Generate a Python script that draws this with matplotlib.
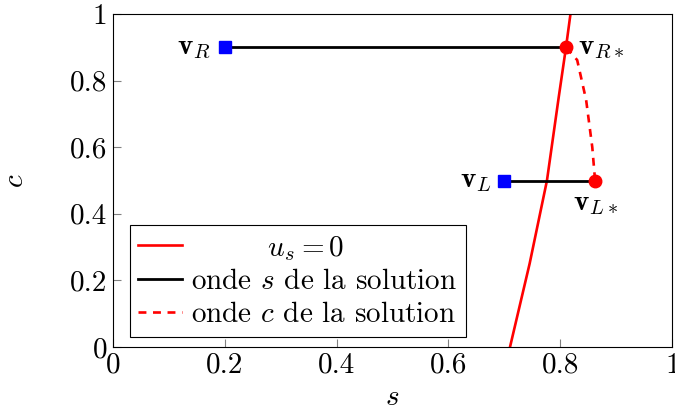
import numpy as np
import matplotlib
matplotlib.use("Agg")
import matplotlib.pyplot as plt

plt.rcParams["font.family"] = "serif"
plt.rcParams["font.serif"] = ["cmr10"]
plt.rcParams["mathtext.fontset"] = "cm"
plt.rcParams["axes.formatter.use_mathtext"] = True
plt.rcParams["font.size"] = 21

# courbe u_s = 0
us_c = [0.0, 0.25, 0.5, 0.75, 0.9, 1.0]
us_s = [0.71, 0.745, 0.776, 0.797, 0.81, 0.818]

# onde c (entre vR* et vL*)
wc_s = [0.81, 0.83, 0.846, 0.857, 0.862]
wc_c = [0.9, 0.862, 0.742, 0.60, 0.5]

vR = (0.2, 0.9)
vRs = (0.81, 0.9)
vL = (0.7, 0.5)
vLs = (0.862, 0.5)

fig = plt.figure(figsize=(6.75, 4.15), dpi=100)
ax = fig.add_axes([0.167, 0.164, 0.829, 0.802])

ax.plot(us_s, us_c, color="red", lw=1.9, label=r"$\qquad\quad u_s=0$", zorder=2)
ax.plot([vR[0], vRs[0]], [vR[1], vRs[1]], color="black", lw=2.0,
        label=r"onde $s$ de la solution", zorder=3)
ax.plot([vL[0], vLs[0]], [vL[1], vLs[1]], color="black", lw=2.0, zorder=3)
ax.plot(wc_s, wc_c, color="red", lw=1.9, ls=(0, (3, 2.5)),
        label=r"onde $c$ de la solution", zorder=2)

ax.plot([vR[0], vL[0]], [vR[1], vL[1]], "s", color="blue", ms=8, ls="none", zorder=4)
ax.plot([vRs[0], vLs[0]], [vRs[1], vLs[1]], "o", color="red", ms=9, ls="none", zorder=4)

ax.text(vR[0] - 0.025, vR[1], r"$\mathbf{v}_R$", ha="right", va="center")
ax.text(vRs[0] + 0.022, vRs[1], r"$\mathbf{v}_{R*}$", ha="left", va="center")
ax.text(vL[0] - 0.022, vL[1], r"$\mathbf{v}_L$", ha="right", va="center")
ax.text(vLs[0], vLs[1] - 0.03, r"$\mathbf{v}_{L*}$", ha="center", va="top")

ax.set_xlim(0, 1)
ax.set_ylim(0, 1)
ax.set_xticks([0, 0.2, 0.4, 0.6, 0.8, 1])
ax.set_yticks([0, 0.2, 0.4, 0.6, 0.8, 1])
ax.set_xticklabels(["0", "0.2", "0.4", "0.6", "0.8", "1"])
ax.set_yticklabels(["0", "0.2", "0.4", "0.6", "0.8", "1"])
ax.tick_params(direction="in", length=6, color="gray", width=0.8, pad=4)
ax.set_xlabel(r"$s$")
ax.set_ylabel(r"$c$")
ax.yaxis.set_label_coords(-0.15, 0.5)

leg = ax.legend(loc="lower left", bbox_to_anchor=(0.03, 0.03), borderaxespad=0,
                fancybox=False, edgecolor="black", framealpha=1,
                handlelength=1.5, handletextpad=0.3, borderpad=0.3,
                labelspacing=0.22)
leg.get_frame().set_linewidth(0.8)

fig.savefig("out.png", dpi=100)
